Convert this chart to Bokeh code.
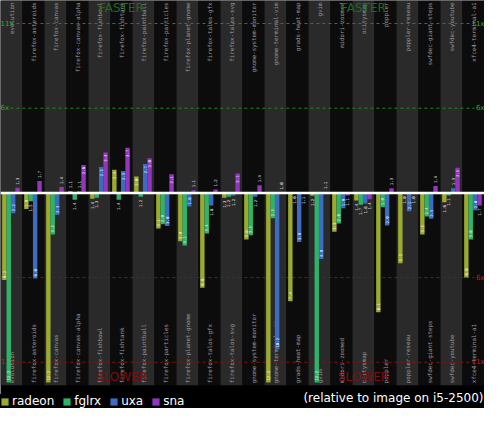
import math
from bokeh.plotting import figure
from bokeh.models import Range1d, Legend, LegendItem, Label, ColumnDataSource
from bokeh.embed import file_html
from bokeh.resources import INLINE
from bokeh.core.properties import value

categories = ["evolution", "firefox-asteroids", "firefox-canvas", "firefox-canvas-alpha",
              "firefox-fishbowl", "firefox-fishtank", "firefox-paintball", "firefox-particles",
              "firefox-planet-gnome", "firefox-talos-gfx", "firefox-talos-svg",
              "gnome-system-monitor", "gnome-terminal-vim", "grads-heat-map", "gvim",
              "midori-zoomed", "ocitysmap", "poppler", "poppler-reseau",
              "swfdec-giant-steps", "swfdec-youtube", "xfce4-terminal-a1"]

# signed factors relative to the i5-2500 image backend:
# +f = f times faster, -s = s times slower
radeon = [-6.15, -1.95, -12.2, 1.1, -1.35, 2.36, 1.97, -3.1, -3.85, -6.6, -1.28,
          -3.75, -12.2, -7.4, -1.17, -3.3, -1.45, -8.05, -5.15, -3.45, -1.55, -6.0]
fglrx = [-12.2, -1.5, -3.45, -1.4, -1.28, -1.4, -1.23, -2.85, -4.1, -3.4, -1.23,
         -3.5, -2.5, -1.03, -12.2, -2.8, -1.7, -1.85, -1.03, -2.4, -1.15, -3.75]
uxa = [-2.2, -6.05, -2.3, 1.1, 2.53, 2.3, 2.7, -2.95, -1.8, -1.75, -1.17,
       -1.23, -10.25, -3.9, -4.9, -1.9, -1.62, -2.93, -2.08, -2.53, 1.28, -2.02]
sna = [1.3, 1.7, 1.35, 2.65, 3.39, 3.67, 3.05, 2.1, 1.15, 1.2, 2.15,
       1.45, 1.02, -1.05, 1.05, -1.15, -1.38, 1.28, -1.02, 1.4, 2.48, -1.74]

series_names = ["radeon", "fglrx", "uxa", "sna"]
series_values = [radeon, fglrx, uxa, sna]
series_colors = ["#9aab30", "#2fb36a", "#3b6cbf", "#9534bd"]

tick_values = [6, 11]
tick_labels = ["6x", "11x"]

W, H = 484, 408
Y_TOP = 11.36
Y_PLOT_BOTTOM = -11.36
Y_BOTTOM = -12.73
PX = (Y_TOP - Y_BOTTOM) / H  # data units per pixel

n = len(categories)

p = figure(width=W, height=H, output_backend="svg", toolbar_location=None,
           x_range=Range1d(0, n), y_range=Range1d(Y_BOTTOM, Y_TOP),
           min_border=0, background_fill_color="black", border_fill_color="black",
           outline_line_color=None)
p.axis.visible = False
p.grid.visible = False

# alternating column backgrounds
xs = [i + 0.5 for i in range(n)]
bg_colors = ["#2a2a2a" if i % 2 == 0 else "#0c0c0c" for i in range(n)]
p.vbar(x=xs, width=1.0, top=Y_TOP, bottom=Y_PLOT_BOTTOM, color=bg_colors, line_color=None)

# category labels (top and bottom), rotated
cat_src = ColumnDataSource(dict(x=xs, name=categories))
p.text(x="x", y=Y_TOP - 2 * PX, text="name", source=cat_src, angle=math.pi / 2,
       text_align="right", text_baseline="middle", text_color="#9c9c9c",
       text_font=value("DejaVu Sans Mono"), text_font_size="5.8px")
p.text(x="x", y=Y_PLOT_BOTTOM + 2 * PX, text="name", source=cat_src, angle=math.pi / 2,
       text_align="left", text_baseline="middle", text_color="#9c9c9c",
       text_font=value("DejaVu Sans Mono"), text_font_size="5.8px")

# reference dashed lines
up_y = [t - 1 for t in tick_values]
dn_y = [-(t - 1) for t in tick_values]
p.segment(x0=0.45, x1=n - 0.45, y0=up_y, y1=up_y, line_color="#1c8a1c",
          line_dash="3 3", line_width=1)
p.segment(x0=0.45, x1=n - 0.45, y0=dn_y, y1=dn_y, line_color="#8a1212",
          line_dash="3 3", line_width=1)

# tick labels on both sides
for yy, col in ((up_y, "#22b022"), (dn_y, "#d01414")):
    p.text(x=0, y=yy, text=tick_labels, text_align="left", text_baseline="middle",
           text_color=col, text_font=value("DejaVu Sans"), text_font_size="7px")
    p.text(x=n, y=yy, text=tick_labels, text_align="right", text_baseline="middle",
           text_color=col, text_font=value("DejaVu Sans"), text_font_size="7px")

# FASTER / SLOWER
p.text(x=[n / 4, 3 * n / 4], y=Y_TOP, text=["FASTER", "FASTER"], text_align="center",
       text_baseline="top", text_color="#1d6b1d", text_font=value("DejaVu Sans"),
       text_font_size="12px")
p.text(x=[n / 4, 3 * n / 4], y=Y_PLOT_BOTTOM + 1 * PX, text=["SLOWER", "SLOWER"],
       text_align="center", text_baseline="bottom", text_color="#7a0f0f",
       text_font=value("DejaVu Sans"), text_font_size="12px")

# bars
offsets = [-0.325, -0.125, 0.075, 0.275]
bar_w = 0.2
renderers = []
lab_left = dict(x=[], y=[], t=[])
lab_right = dict(x=[], y=[], t=[])
for k, (vals, col) in enumerate(zip(series_values, series_colors)):
    h = [v - 1 if v > 0 else v + 1 for v in vals]
    bx = [i + 0.5 + offsets[k] for i in range(n)]
    src = ColumnDataSource(dict(x=bx, top=[max(a, 0) for a in h],
                                bottom=[min(a, 0) for a in h]))
    r = p.vbar(x="x", width=bar_w, top="top", bottom="bottom", source=src,
               fill_color=col, line_color=None)
    renderers.append(r)
    for xx, a, v in zip(bx, h, vals):
        txt = f"{abs(v):.1f}"
        inside = abs(a) > 0.75
        if a >= 0:
            if inside:
                d, yy = lab_right, a - 2 * PX
            else:
                d, yy = lab_left, a + 3 * PX
        else:
            if inside:
                d, yy = lab_left, a + 2 * PX
            else:
                d, yy = lab_right, a - 3 * PX
        d["x"].append(xx)
        d["y"].append(yy)
        d["t"].append(txt)

p.text(x="x", y="y", text="t", source=ColumnDataSource(lab_left), angle=math.pi / 2,
       text_align="left", text_baseline="middle", text_color="white",
       text_font=value("DejaVu Sans Mono"), text_font_size="4px")
p.text(x="x", y="y", text="t", source=ColumnDataSource(lab_right), angle=math.pi / 2,
       text_align="right", text_baseline="middle", text_color="white",
       text_font=value("DejaVu Sans Mono"), text_font_size="4px")

# white baseline
p.segment(x0=0, x1=n, y0=0, y1=0, line_color="white", line_width=2.5)

legend = Legend(items=[LegendItem(label=nm, renderers=[r]) for nm, r in zip(series_names, renderers)],
                location="bottom_left", orientation="horizontal",
                background_fill_color="black", background_fill_alpha=1.0,
                border_line_color=None, margin=0, padding=6, spacing=8,
                glyph_width=9, glyph_height=9, label_height=9, label_standoff=3,
                label_text_color="white", label_text_font="DejaVu Sans",
                label_text_font_size="12px", label_text_baseline="middle")
p.add_layout(legend)

p.add_layout(Label(x=W - 1, y=10.5, x_units="screen", y_units="screen",
                   text="(relative to image on i5-2500)", text_align="right",
                   text_baseline="middle", text_color="white",
                   text_font="DejaVu Sans", text_font_size="12px"))

open("out.html", "w").write(file_html(p, INLINE))
